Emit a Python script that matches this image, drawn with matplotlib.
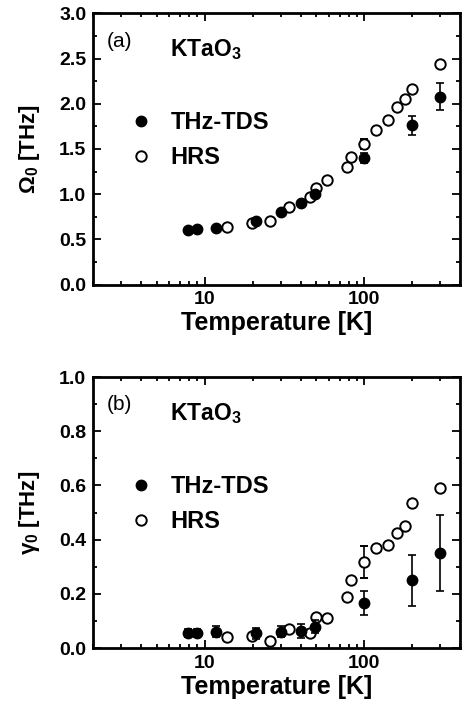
import numpy as np
import matplotlib
matplotlib.use('Agg')
import matplotlib.pyplot as plt
from matplotlib.ticker import MultipleLocator, LogLocator, NullFormatter, FixedLocator

plt.rcParams['font.family'] = ['Liberation Sans', 'DejaVu Sans']
plt.rcParams['font.weight'] = 'bold'
plt.rcParams['mathtext.fontset'] = 'custom'
plt.rcParams['mathtext.rm'] = 'Liberation Sans:bold'
plt.rcParams['mathtext.it'] = 'Liberation Sans:bold'
plt.rcParams['mathtext.bf'] = 'Liberation Sans:bold'

# THz-TDS data (filled)
T_tds = [7.8, 8.9, 11.8, 20.8, 30, 40, 49, 100, 200, 300]
omega_tds = [0.60, 0.61, 0.62, 0.70, 0.80, 0.90, 1.00, 1.40, 1.76, 2.08]
omega_tds_err = [0.02, 0.02, 0.02, 0.02, 0.02, 0.02, 0.03, 0.05, 0.11, 0.15]
gamma_tds = [0.055, 0.055, 0.061, 0.055, 0.060, 0.064, 0.079, 0.167, 0.250, 0.350]
gamma_tds_err = [0.015, 0.015, 0.02, 0.02, 0.02, 0.025, 0.025, 0.045, 0.095, 0.14]

# HRS data (open)
T_hrs = [13.8, 19.8, 25.7, 33.9, 45.9, 50, 58.5, 77.4, 82.5, 100, 119, 140, 160, 179, 200, 300]
omega_hrs = [0.635, 0.685, 0.70, 0.855, 0.965, 1.065, 1.155, 1.30, 1.41, 1.55, 1.71, 1.82, 1.96, 2.05, 2.16, 2.44]
gamma_hrs = [0.040, 0.045, 0.027, 0.071, 0.055, 0.113, 0.110, 0.189, 0.252, 0.317, 0.370, 0.380, 0.424, 0.451, 0.534, 0.589]
omega_hrs_err = [0, 0, 0, 0, 0, 0, 0, 0, 0, 0.055, 0, 0, 0, 0, 0, 0]
gamma_hrs_err = [0, 0, 0, 0, 0, 0, 0, 0, 0, 0.06, 0, 0, 0, 0, 0, 0]

fig = plt.figure(figsize=(4.66, 7.06), dpi=100)
ax1 = fig.add_axes([0.2, 0.597, 0.788, 0.384])
ax2 = fig.add_axes([0.2, 0.082, 0.788, 0.384])


def draw(ax, y_tds, e_tds, y_hrs, e_hrs, ylim, major, minor, ylabel, tag):
    c_hrs = ax.errorbar(T_hrs, y_hrs, yerr=e_hrs, fmt='o', mfc='white', mec='black', mew=1.4,
                        ms=7.5, ecolor='black', elinewidth=1.2, capsize=3, capthick=1.2,
                        zorder=3)
    c_tds = ax.errorbar(T_tds, y_tds, yerr=e_tds, fmt='o', mfc='black', mec='black',
                        ms=7.5, ecolor='black', elinewidth=1.2, capsize=3, capthick=1.2,
                        zorder=4)
    ax.set_xscale('log')
    ax.set_xlim(2, 400)
    ax.set_ylim(*ylim)
    ax.yaxis.set_major_locator(MultipleLocator(major))
    ax.yaxis.set_minor_locator(MultipleLocator(minor))
    ax.xaxis.set_major_locator(FixedLocator([10, 100]))
    ax.xaxis.set_minor_locator(LogLocator(base=10, subs=np.arange(2, 10)))
    ax.xaxis.set_minor_formatter(NullFormatter())
    ax.set_xticklabels(['10', '100'])
    ax.yaxis.set_major_formatter(matplotlib.ticker.FormatStrFormatter('%.1f'))
    ax.tick_params(which='both', direction='in', top=True, right=True, width=1.3,
                   labelsize=14)
    ax.tick_params(which='major', length=6, pad=5)
    ax.tick_params(which='minor', length=3)
    for s in ax.spines.values():
        s.set_linewidth(2)
    ax.set_xlabel('Temperature [K]', fontsize=18, fontweight='bold', labelpad=2)
    ax.set_ylabel(ylabel, fontsize=16, fontweight='bold', labelpad=12)
    ax.text(0.038, 0.897, tag, transform=ax.transAxes, fontsize=15,
            fontweight='normal', va='center', ha='left')
    ax.text(0.21, 0.867, r'KTaO$_3$', transform=ax.transAxes, fontsize=16.5,
            fontweight='bold', va='center', ha='left')
    ax.legend([c_tds[0], c_hrs[0]], ['THz-TDS', 'HRS'], loc='center left',
              bbox_to_anchor=(0.098, 0.532), frameon=False, handlelength=1.0,
              handletextpad=0.75, borderpad=0, borderaxespad=0, labelspacing=0.5,
              prop={'weight': 'bold', 'size': 17})


draw(ax1, omega_tds, omega_tds_err, omega_hrs, omega_hrs_err, (0, 3.0), 0.5, 0.25,
     r'$\Omega_0$ [THz]', '(a)')
draw(ax2, gamma_tds, gamma_tds_err, gamma_hrs, gamma_hrs_err, (0, 1.0), 0.2, 0.1,
     r'$\gamma_0$ [THz]', '(b)')

fig.savefig('out.png', dpi=100)
